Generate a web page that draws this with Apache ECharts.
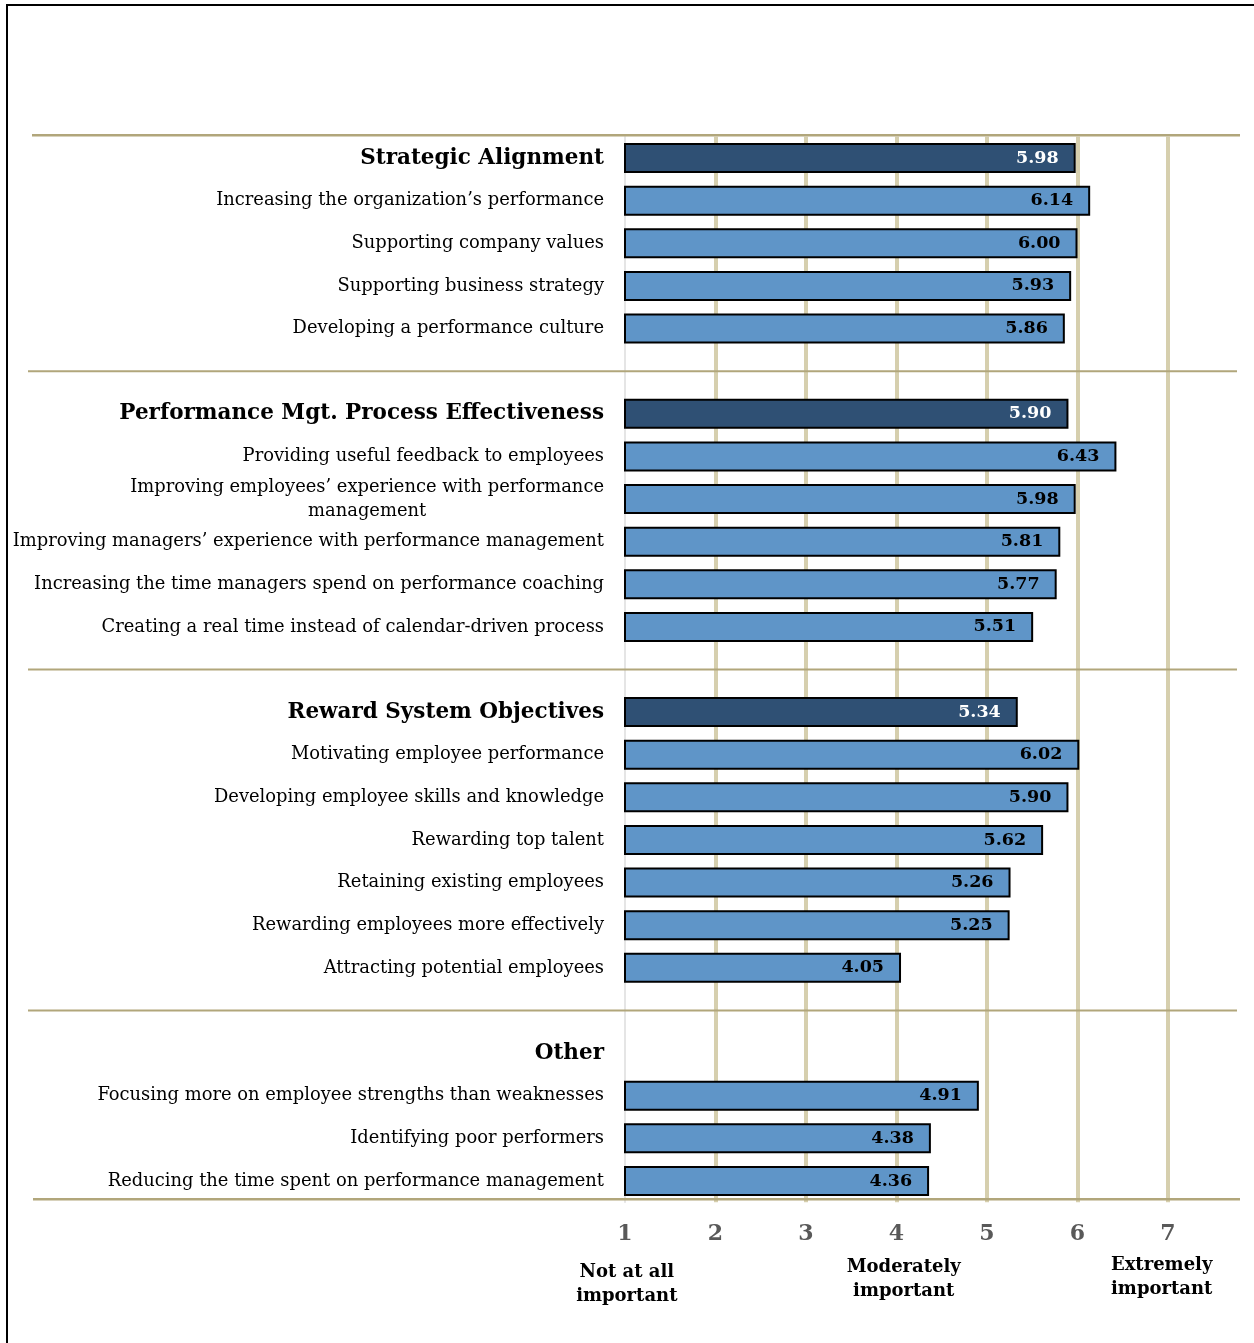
<!DOCTYPE html>
<html>
<head>
<meta charset="utf-8">
<script src="https://cdn.jsdelivr.net/npm/echarts@6/dist/echarts.min.js"></script>
<style>
html,body{margin:0;padding:0;background:#fff;}
#chart{width:1254px;height:1343px;}
</style>
</head>
<body>
<div id="chart"></div>
<script>
// ---- Data ----
const groupNames = ['Strategic Alignment', 'Performance Mgt. Process Effectiveness', 'Reward System Objectives', 'Other'];
const groupScores = [5.98, 5.90, 5.34, null];

const strategicItems = ['Increasing the organization’s performance', 'Supporting company values', 'Supporting business strategy', 'Developing a performance culture'];
const strategicValues = [6.14, 6.00, 5.93, 5.86];

const processItems = ['Providing useful feedback to employees', 'Improving employees’ experience with performance\nmanagement', 'Improving managers’ experience with performance management', 'Increasing the time managers spend on performance coaching', 'Creating a real time instead of calendar-driven process'];
const processValues = [6.43, 5.98, 5.81, 5.77, 5.51];

const rewardItems = ['Motivating employee performance', 'Developing employee skills and knowledge', 'Rewarding top talent', 'Retaining existing employees', 'Rewarding employees more effectively', 'Attracting potential employees'];
const rewardValues = [6.02, 5.90, 5.62, 5.26, 5.25, 4.05];

const otherItems = ['Focusing more on employee strengths than weaknesses', 'Identifying poor performers', 'Reducing the time spent on performance management'];
const otherValues = [4.91, 4.38, 4.36];

const xTicks = ['1', '2', '3', '4', '5', '6', '7'];
const scaleNotes = ['Not at all\nimportant', 'Moderately\nimportant', 'Extremely\nimportant'];

// ---- Build rows ----
const groupItems = [strategicItems, processItems, rewardItems, otherItems];
const groupValues = [strategicValues, processValues, rewardValues, otherValues];
const rows = [];
const sepRows = [];
groupNames.forEach((g, gi) => {
  rows.push({label: g, value: groupScores[gi], header: true});
  groupItems[gi].forEach((it, ii) => rows.push({label: it, value: groupValues[gi][ii], header: false}));
  if (gi < groupNames.length - 1) { sepRows.push(rows.length); rows.push({label: '', value: null, header: false, blank: true}); }
});
const categories = rows.map((r, i) => 'r' + i);

const SERIF = '"DejaVu Serif", "Liberation Serif", serif';
const DARK = '#2f5074';
const LIGHT = '#5f95c8';
const GRID_TAN = '#d6cfae';
const SEP = '#b1a67b';

const chart = echarts.init(document.getElementById('chart'));

const option = {
  backgroundColor: '#fff',
  animation: false,
  grid: {left: 625, right: 86, top: 136.7, bottom: 140.7, containLabel: false},
  xAxis: {
    type: 'value', min: 1, max: 7, interval: 1, position: 'bottom',
    axisLine: {show: false}, axisTick: {show: false},
    splitLine: {show: true, lineStyle: {color: ['rgba(0,0,0,0)', GRID_TAN, GRID_TAN, GRID_TAN, GRID_TAN, GRID_TAN, GRID_TAN], width: 4}},
    axisLabel: {
      margin: 21, color: '#595959', fontFamily: SERIF, fontWeight: 'bold', fontSize: 22,
      formatter: v => xTicks[Math.round(v) - 1] || ''
    }
  },
  yAxis: {
    type: 'category', inverse: true, data: categories,
    axisTick: {show: false},
    axisLine: {show: true, lineStyle: {color: '#dcdcdc', width: 1.5}},
    axisLabel: {
      interval: 0, margin: 21, align: 'right', fontFamily: SERIF, color: '#000',
      formatter: (v, i) => {
        const r = rows[i];
        if (!r || r.blank) return '';
        if (r.header) return '{h|' + r.label + '}';
        if (r.label.indexOf('\n') >= 0) return r.label.split('\n').map(s => '{c|' + s + '}').join('\n');
        return '{n|' + r.label + '}';
      },
      rich: {
        h: {fontFamily: SERIF, fontWeight: 'bold', fontSize: 21.5, color: '#000'},
        n: {fontFamily: SERIF, fontSize: 17.9, color: '#000'},
        c: {fontFamily: SERIF, fontSize: 17.9, color: '#000', align: 'center', lineHeight: 24}
      }
    }
  },
  series: [{
    type: 'bar',
    barWidth: 30,
    data: rows.map(r => ({
      value: r.value,
      itemStyle: {color: r.header ? DARK : LIGHT, borderColor: '#000', borderWidth: 2},
      label: {color: r.header ? '#fff' : '#000'}
    })),
    label: {
      show: true, position: 'insideRight', distance: 17,
      fontFamily: SERIF, fontWeight: 'bold', fontSize: 17.5,
      formatter: p => p.value == null ? '' : Number(p.value).toFixed(2)
    }
  }]
};
chart.setOption(option);

// ---- Decorations computed through the axes ----
const py = i => chart.convertToPixel({yAxisIndex: 0}, i);
const px = v => chart.convertToPixel({xAxisIndex: 0}, v);
const band = py(1) - py(0);
const graphics = [];
// frame
graphics.push({type: 'line', shape: {x1: 7, y1: 5, x2: 7, y2: 1343}, style: {stroke: '#000', lineWidth: 2}, z: 10});
graphics.push({type: 'line', shape: {x1: 6, y1: 5, x2: 1254, y2: 5}, style: {stroke: '#000', lineWidth: 2}, z: 10});
// top & bottom rules
const topY = py(0) - band / 2 - 1.5;
const botY = py(rows.length - 1) + band / 2 - 3;
graphics.push({type: 'line', shape: {x1: 32, y1: topY, x2: 1240, y2: topY}, style: {stroke: SEP, lineWidth: 2.5}, z: 10});
graphics.push({type: 'line', shape: {x1: 33, y1: botY, x2: 1240, y2: botY}, style: {stroke: SEP, lineWidth: 2.5}, z: 10});
sepRows.forEach(i => {
  const y = py(i);
  graphics.push({type: 'line', shape: {x1: 28, y1: y, x2: 1237, y2: y}, style: {stroke: SEP, lineWidth: 2}, z: 10});
});
// scale notes
const notePos = [[1.02, 1260], [4.08, 1255], [6.93, 1253]];
scaleNotes.forEach((t, i) => {
  graphics.push({
    type: 'text', x: px(notePos[i][0]), y: notePos[i][1],
    style: {text: t, fill: '#000', font: 'bold 18px ' + SERIF, textAlign: 'center', textVerticalAlign: 'top', lineHeight: 24}
  });
});
chart.setOption({graphic: graphics});
</script>
</body>
</html>
